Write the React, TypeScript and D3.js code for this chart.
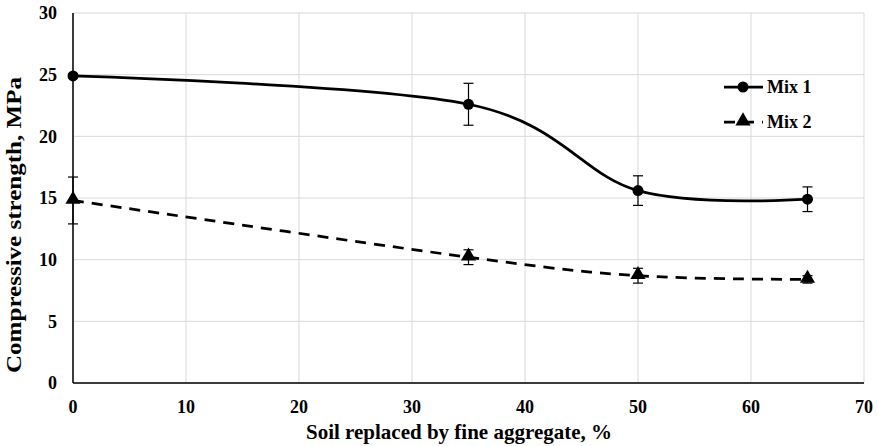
import React from "react";
import * as d3 from "d3";

const xValues = [0, 35, 50, 65];
const mix1 = [24.9, 22.6, 15.6, 14.9];
const mix1Err = [0.15, 1.7, 1.2, 1.0];
const mix2 = [14.8, 10.2, 8.7, 8.4];
const mix2Err = [1.9, 0.6, 0.6, 0.3];
const xTicks = [0, 10, 20, 30, 40, 50, 60, 70];
const yTicks = [0, 5, 10, 15, 20, 25, 30];
const seriesNames = ["Mix 1", "Mix 2"];

export default function App() {
  const W = 878, H = 446;
  const x = d3.scaleLinear().domain([0, 70]).range([73, 864]);
  const y = d3.scaleLinear().domain([0, 30]).range([383, 13]);
  const line = d3
    .line<[number, number]>()
    .x((d) => x(d[0]))
    .y((d) => y(d[1]))
    .curve(d3.curveCardinal.tension(0));
  const pts1 = xValues.map((v, i) => [v, mix1[i]] as [number, number]);
  const pts2 = xValues.map((v, i) => [v, mix2[i]] as [number, number]);
  const font = "'Liberation Serif', 'Times New Roman', serif";
  const tri = d3.symbol().type(d3.symbolTriangle).size(100)();
  const errBars = (vals: number[], errs: number[], key: string) =>
    xValues.map((v, i) => {
      const cx = x(v);
      const y1 = y(vals[i] + errs[i]);
      const y2 = y(vals[i] - errs[i]);
      return (
        <g key={key + i} stroke="#000" strokeWidth={1.2}>
          <line x1={cx} x2={cx} y1={y1} y2={y2} />
          <line x1={cx - 5} x2={cx + 5} y1={y1} y2={y1} />
          <line x1={cx - 5} x2={cx + 5} y1={y2} y2={y2} />
        </g>
      );
    });
  return (
    <svg width={W} height={H} style={{ position: "absolute", left: 0, top: 0 }}>
      <rect width={W} height={H} fill="#fff" />
      {yTicks.map((t) => (
        <line key={"gy" + t} x1={x(0)} x2={x(70)} y1={y(t)} y2={y(t)} stroke="#d9d9d9" strokeWidth={1} />
      ))}
      {xTicks.map((t) => (
        <line key={"gx" + t} x1={x(t)} x2={x(t)} y1={y(0)} y2={y(30)} stroke="#d9d9d9" strokeWidth={1} />
      ))}
      <line x1={x(0)} x2={x(0)} y1={y(0)} y2={y(30)} stroke="#000" strokeWidth={1.5} />
      <line x1={x(0)} x2={x(70)} y1={y(0)} y2={y(0)} stroke="#000" strokeWidth={1.5} />
      {yTicks.map((t) => (
        <text key={"ty" + t} x={57} y={y(t)} dy="0.35em" textAnchor="end" fontFamily={font} fontWeight="bold" fontSize={18}>
          {t}
        </text>
      ))}
      {xTicks.map((t) => (
        <text key={"tx" + t} x={x(t)} y={413} textAnchor="middle" fontFamily={font} fontWeight="bold" fontSize={18}>
          {t}
        </text>
      ))}
      <text x={459} y={439} textAnchor="middle" fontFamily={font} fontWeight="bold" fontSize={21}>
        Soil replaced by fine aggregate, %
      </text>
      <text
        transform={`translate(21,225) rotate(-90)`}
        textAnchor="middle"
        fontFamily={font}
        fontWeight="bold"
        fontSize={21}
        textLength={296}
        lengthAdjust="spacingAndGlyphs"
      >
        Compressive strength, MPa
      </text>
      <path d={line(pts1) || ""} fill="none" stroke="#000" strokeWidth={2.75} />
      <path d={line(pts2) || ""} fill="none" stroke="#000" strokeWidth={2.75} strokeDasharray="11,8" />
      {errBars(mix1, mix1Err, "e1")}
      {errBars(mix2, mix2Err, "e2")}
      {pts1.map((p, i) => (
        <circle key={"c" + i} cx={x(p[0])} cy={y(p[1])} r={5.5} fill="#000" />
      ))}
      {pts2.map((p, i) => (
        <path key={"t" + i} d={tri || ""} transform={`translate(${x(p[0])},${y(p[1]) - 1})`} fill="#000" />
      ))}
      <g>
        <line x1={724} x2={763} y1={87} y2={87} stroke="#000" strokeWidth={2.75} />
        <circle cx={743} cy={87} r={5.5} fill="#000" />
        <text x={767} y={87} dy="0.35em" fontFamily={font} fontWeight="bold" fontSize={18}>
          {seriesNames[0]}
        </text>
        <line x1={724} x2={763} y1={122} y2={122} stroke="#000" strokeWidth={2.75} strokeDasharray="11,8" />
        <path d={tri || ""} transform="translate(743,121)" fill="#000" />
        <text x={767} y={122} dy="0.35em" fontFamily={font} fontWeight="bold" fontSize={18}>
          {seriesNames[1]}
        </text>
      </g>
    </svg>
  );
}
